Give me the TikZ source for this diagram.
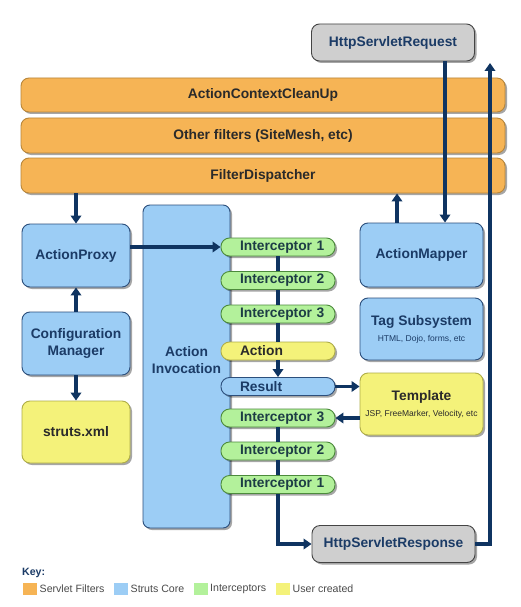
\documentclass[tikz,border=0pt]{standalone}
\usepackage{fontspec}
\setmainfont{Liberation Sans}
\usetikzlibrary{shadows,arrows.meta}
\definecolor{orfill}{HTML}{F6B455}
\definecolor{ordraw}{HTML}{B8863A}
\definecolor{blfill}{HTML}{9CCDF5}
\definecolor{bldraw}{HTML}{2C4F7C}
\definecolor{grfill}{HTML}{B3F19B}
\definecolor{grdraw}{HTML}{4C8A3C}
\definecolor{yefill}{HTML}{F4F27A}
\definecolor{yedraw}{HTML}{AFAD48}
\definecolor{gyfill}{HTML}{CFCFCF}
\definecolor{gydraw}{HTML}{444444}
\definecolor{navy}{HTML}{0F3461}
\definecolor{txnavy}{HTML}{1B3B66}
\definecolor{txdark}{HTML}{2A2A2A}
\definecolor{txgreen}{HTML}{1D3D45}
\newcommand\subfont{\fontsize{8.5}{10}\selectfont\mdseries}
\tikzset{
  box/.style={rounded corners=8pt, line width=0.9pt, inner sep=0pt,
    drop shadow={shadow xshift=2pt, shadow yshift=-2pt, opacity=0.35, fill=black},
    font=\fontsize{13.8}{17}\selectfont\bfseries, align=center},
  bar/.style={box, fill=orfill, draw=ordraw, minimum width=484pt, minimum height=34pt, text=txdark},
  core/.style={box, fill=blfill, draw=bldraw, text=txnavy},
  user/.style={box, fill=yefill, draw=yedraw, text=txdark},
  http/.style={box, fill=gyfill, draw=gydraw, text=txnavy, minimum width=163pt, minimum height=37pt},
  pill/.style={box, rounded corners=8.5pt, minimum width=114pt, minimum height=18pt,
    text width=76pt, align=left},
  icpt/.style={pill, fill=grfill, draw=grdraw, text=txgreen},
  flow/.style={draw=navy, line width=3.2pt, -{Triangle[length=8pt,width=10.5pt]}},
  link/.style={draw=navy, line width=3.2pt},
  keybox/.style={fill=#1, minimum width=14pt, minimum height=12pt, inner sep=0pt},
  keytext/.style={anchor=west, inner sep=0pt, font=\fontsize{10.6}{12}\selectfont, text=txdark!85}
}
\begin{document}
\begin{tikzpicture}[x=1pt, y=-1pt]
\useasboundingbox[fill=white] (0,0) rectangle (520,607);
% servlet filters
\node[http] (req) at (393,42.5) {HttpServletRequest};
\node[bar] (bar1) at (263,95) {ActionContextCleanUp};
\node[bar, minimum height=35pt] (bar2) at (263,135.5) {Other filters (SiteMesh, etc)};
\node[bar, minimum height=35pt] (bar3) at (263,175.5) {FilterDispatcher};
% left column
\node[core, minimum width=108pt, minimum height=63pt] (proxy) at (76,255.5) {ActionProxy};
\node[core, minimum width=108pt, minimum height=63pt, font=\fontsize{13.8}{17.6}\selectfont\bfseries] (config) at (76,343.5) {Configuration\\Manager};
\node[user, minimum width=108pt, minimum height=62pt] (struts) at (76,432) {struts.xml};
% invocation
\node[core, minimum width=87pt, minimum height=323pt, rounded corners=7pt, font=\fontsize{13.8}{16.7}\selectfont\bfseries] (invoc) at (186.5,366.5) {Action\\Invocation\\[-3pt]\mbox{}};
% right column
\node[core, minimum width=123pt, minimum height=64pt] (mapper) at (421.5,255) {ActionMapper};
\node[core, minimum width=123pt, minimum height=62pt] (tag) at (421.5,329) {Tag Subsystem\\[-1pt]{\subfont HTML, Dojo, forms, etc}};
\node[user, minimum width=123pt, minimum height=62pt] (tmpl) at (421.5,404) {Template\\[-1pt]{\subfont JSP, FreeMarker, Velocity, etc}};
\node[http] (resp) at (393.5,544) {HttpServletResponse};
% interceptor stack
\node[icpt] (i1) at (278,247) {\mbox{Interceptor 1}};
\node[icpt] (i2) at (278,280.5) {\mbox{Interceptor 2}};
\node[icpt] (i3) at (278,314) {\mbox{Interceptor 3}};
\node[pill, fill=yefill, draw=yedraw, text=txdark] (act) at (278,351) {Action};
\node[pill, fill=blfill, draw=bldraw, text=txnavy] (res) at (278,386.5) {Result};
\node[icpt] (j3) at (278,418) {\mbox{Interceptor 3}};
\node[icpt] (j2) at (278,451) {\mbox{Interceptor 2}};
\node[icpt] (j1) at (278,484.5) {\mbox{Interceptor 1}};
% connectors
\coordinate (up) at (490,63);
\draw[flow] (proxy.north |- bar3.south) -- (proxy.north);
\draw[flow] (config.north) -- (proxy.south);
\draw[flow] (config.south) -- (struts.north);
\draw[flow] (proxy.east |- i1.west) -- (i1.west);
\draw[link] (i1.south) -- (i2.north);
\draw[link] (i2.south) -- (i3.north);
\draw[link] (i3.south) -- (act.north);
\draw[flow] (act.south) -- (res.north);
\draw[flow] (res.east) -- (res.east -| tmpl.west);
\draw[flow] (tmpl.west |- j3.east) -- (j3.east);
\draw[link] (j3.south) -- (j2.north);
\draw[link] (j2.south) -- (j1.north);
\draw[flow] (j1.south) |- (resp.west);
\draw[flow] (resp.east) -| (up);
\draw[flow] ([xshift=52pt]req.south) -- ([xshift=52pt]req.south |- mapper.north);
\draw[flow] ([xshift=-24.5pt]mapper.north) -- ([xshift=-24.5pt]mapper.north |- bar3.south);
% key
\node[anchor=west, inner sep=0pt, font=\fontsize{10.6}{12}\selectfont\bfseries, text=txnavy] (key) at (22,573) {Key:};
\node[keybox=orfill] (k1) at (29.5,589) {};
\node[keytext] (k1t) at (39.5,589) {Servlet Filters};
\node[keybox=blfill] (k2) at (121,589) {};
\node[keytext] (k2t) at (130.5,589) {Struts Core};
\node[keybox=grfill] (k3) at (201,589) {};
\node[keytext] (k3t) at (210,589) {Interceptors};
\node[keybox=yefill] (k4) at (283,589) {};
\node[keytext] (k4t) at (292.5,589) {User created};
\end{tikzpicture}
\end{document}
